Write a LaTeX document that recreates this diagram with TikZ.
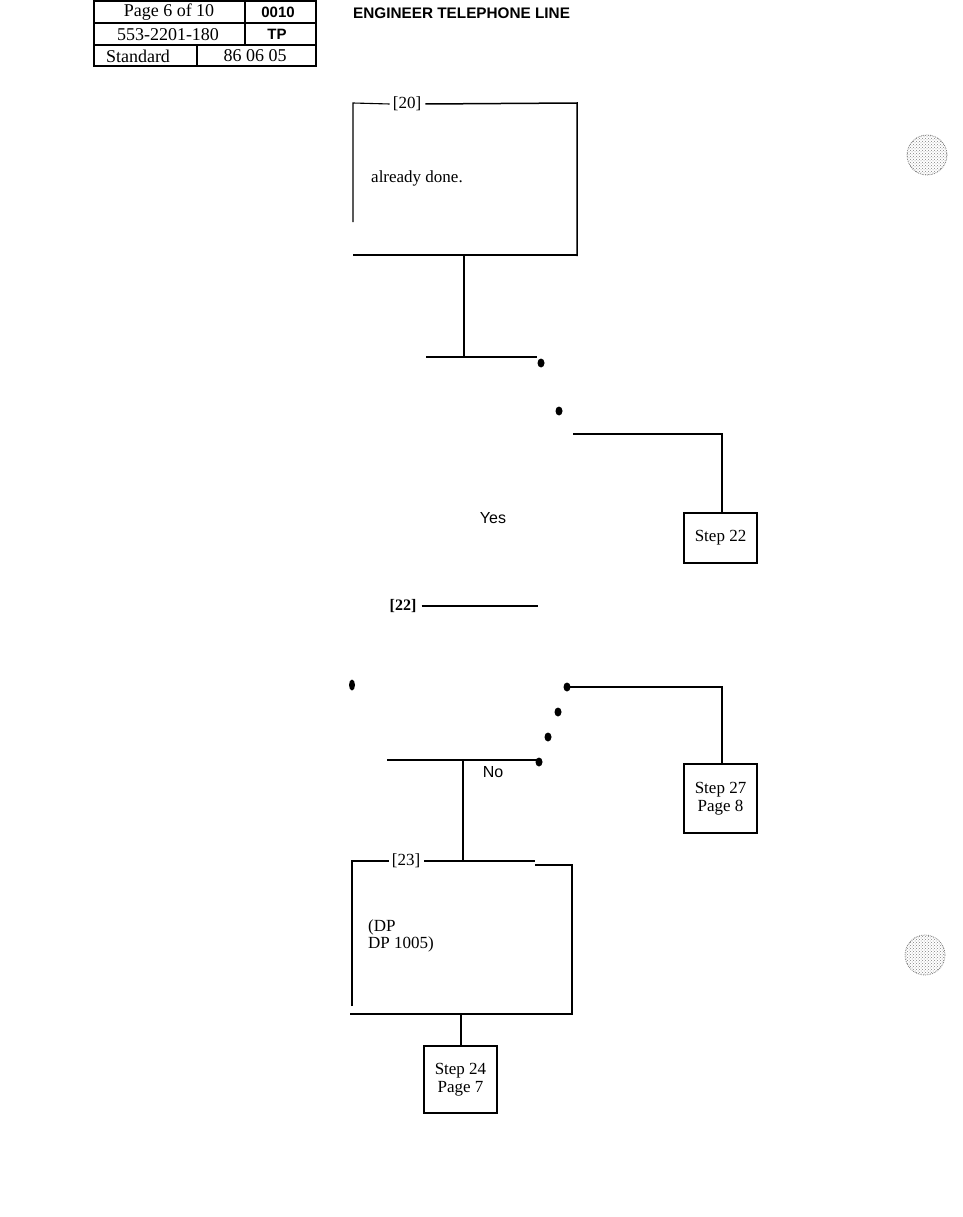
\documentclass[tikz,border=0pt]{standalone}
\usepackage{fontspec}
\setmainfont{Liberation Serif}
\setsansfont{Liberation Sans}
\usetikzlibrary{shapes.geometric,patterns}
\tikzset{
  ln/.style={line width=1.5pt, black},
  thin ln/.style={line width=1.1pt, black},
  tbl/.style={line width=1.2pt},
  celltxt/.style={font=\fontsize{18}{19}\selectfont, inner sep=0pt},
  celltxtsf/.style={font=\sffamily\bfseries\fontsize{15}{16}\selectfont, inner sep=0pt},
  steptxt/.style={font=\fontsize{17}{18.5}\selectfont, align=center, inner sep=0pt},
  stepbox/.style={draw, line width=1.3pt, rectangle, inner sep=0pt},
  lbl/.style={font=\fontsize{17}{18}\selectfont, inner sep=0pt},
  yn/.style={font=\sffamily\fontsize{16}{17}\selectfont, inner sep=0pt},
  dotmark/.style={ellipse, fill=black, draw=none, minimum width=7pt, minimum height=9pt, inner sep=0pt},
}
\begin{document}
\begin{tikzpicture}[x=1pt,y=-1pt]
\useasboundingbox (0,0) rectangle (962,1217);

% header table
\draw[tbl] (94,1) rectangle (316,66);
\draw[tbl] (94,23) -- (316,23);
\draw[tbl] (94,45) -- (316,45);
\draw[tbl] (245,1) -- (245,45);
\draw[tbl] (197,45) -- (197,66);
\node[celltxt] (c11) at (169,12.5) {Page 6 of 10};
\node[celltxtsf] (c12) at (278,12.5) {0010};
\node[celltxt] (c21) at (168,34.5) {553-2201-180};
\node[celltxtsf] (c22) at (277,34.5) {TP};
\node[celltxt] (c31) at (138,56) {Standard};
\node[celltxt] (c32) at (255,56) {86 06 05};
\node[font=\sffamily\bfseries\fontsize{15.3}{16}\selectfont, inner sep=0pt, anchor=west] (title) at (353,13) {ENGINEER TELEPHONE LINE};

% box 20
\node[lbl] (l20) at (407,104) {[20]};
\coordinate (b20a) at (353,103);
\coordinate (b20b) at (577,103);
\coordinate (b20c) at (577,256);
\coordinate (b20d) at (353,255);
\draw[thin ln] (353,222) -- (b20a) -- ([xshift=-3pt]l20.west);
\draw[ln] ([xshift=4pt]l20.east) -- (b20b) -- (b20c);
\draw[ln] (b20d) -- (577,255);
\node[lbl, anchor=west] (t20) at (371,178) {already done.};

% connector from box 20
\coordinate (j1) at (464,255);
\coordinate (j2) at (464,357);
\draw[thin ln] (j1) -- (j2);
\coordinate (h1a) at (426,357);
\coordinate (h1b) at (537,357);
\draw[ln] (h1a) -- (h1b);
\node[dotmark] (d1) at (541,363) {};
\node[dotmark] (d2) at (559,411) {};
\coordinate (h2a) at (573,434);
\coordinate (h2b) at (722,434);
\node[stepbox, minimum width=73pt, minimum height=50pt] (s22) at (720.5,538) {};
\node[steptxt] at (s22.center) {Step 22};
\draw[ln] (h2a) -- (h2b) -- (s22.north -| h2b);
\node[yn] (yes) at (493,518) {Yes};

% step 22
\node[lbl, font=\bfseries\fontsize{16}{17}\selectfont] (l22) at (403,606) {[22]};
\coordinate (l22e) at (538,606);
\draw[thin ln] ([xshift=5pt]l22.east) -- (l22e);
\node[dotmark, minimum width=6pt, minimum height=11pt] (d3) at (352,685) {};
\node[dotmark] (d4) at (567,687) {};
\coordinate (h3b) at (722,687);
\node[stepbox, minimum width=73pt, minimum height=69pt] (s27) at (720.5,798.5) {};
\node[steptxt] at (s27.center) {Step 27\\Page 8};
\draw[ln] (d4.center) -- (h3b) -- (s27.north -| h3b);
\node[dotmark] (d5) at (558,712) {};
\node[dotmark] (d6) at (548,737) {};
\node[dotmark] (d7) at (539,762) {};
\coordinate (h4a) at (387,760);
\coordinate (h4b) at (537,760);
\draw[ln] (h4a) -- (h4b);
\node[yn] (no) at (493,772) {No};

% box 23
\node[lbl] (l23) at (406,861) {[23]};
\coordinate (j3) at (463,760);
\coordinate (j4) at (463,861);
\draw[ln] (j3) -- (j4);
\draw[thin ln] (352,1006) -- (352,861) -- ([xshift=-3pt]l23.west);
\draw[ln] ([xshift=4pt]l23.east) -- (535,861);
\draw[ln] (535,865) -- (572,865) -- (572,1015);
\draw[ln] (350,1014) -- (572,1014);
\node[lbl, anchor=west] (t23a) at (368,927) {(DP};
\node[lbl, anchor=west] (t23b) at (368,944) {DP 1005)};

% step 24
\coordinate (j5) at (461,1014);
\node[stepbox, minimum width=73pt, minimum height=67pt] (s24) at (460.5,1079.5) {};
\node[steptxt] at (s24.center) {Step 24\\Page 7};
\draw[thin ln] (j5) -- (s24.north -| j5);

% punch holes (halftone)
\foreach \cx/\cy in {927/155, 925/955} {
  \fill[pattern=crosshatch dots, pattern color=gray] (\cx,\cy) circle (20);
  \draw[gray, line width=0.8pt, densely dotted] (\cx,\cy) circle (20);
}
\end{tikzpicture}
\end{document}
